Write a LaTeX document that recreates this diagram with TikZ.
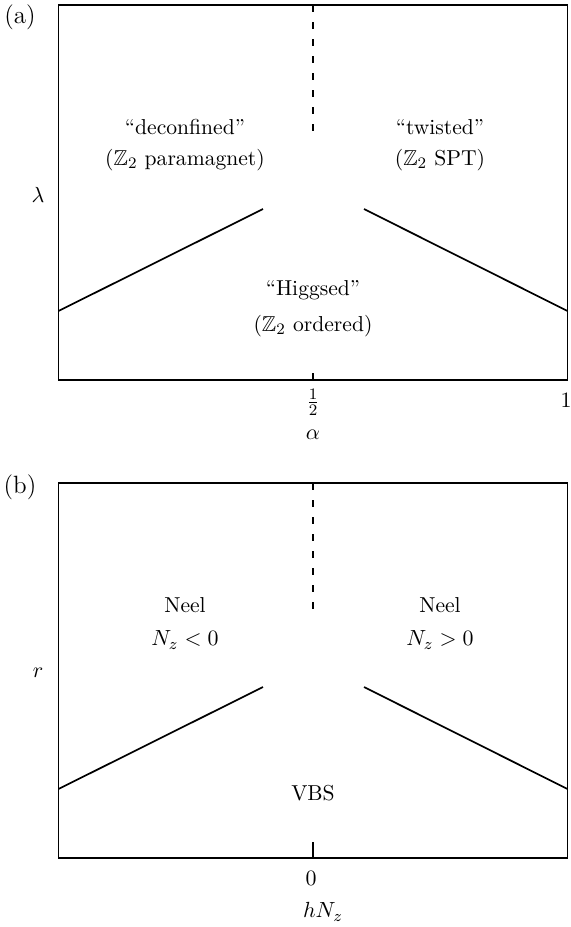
\documentclass[tikz,border=0pt]{standalone}
\usepackage{amsmath,amssymb}
\begin{document}
\begin{tikzpicture}[x=0.5pt,y=-0.5pt,
  frame/.style={line width=0.9pt},
  phase/.style={line width=0.85pt},
  dashline/.style={line width=0.85pt,dash pattern=on 3.5pt off 5pt},
  lbl/.style={inner sep=0pt,font=\fontsize{10.8}{13}\selectfont},
  panlbl/.style={inner sep=0pt,font=\fontsize{12.5}{15}\selectfont}]
\useasboundingbox (0,0) rectangle (570,927);
% ---------- panel (a)
\coordinate (aTL) at (58.5,5);
\coordinate (aBR) at (567.5,380);
\draw[frame] (aTL) rectangle (aBR);
\coordinate (aTop) at (313,5);
\coordinate (aDashEnd) at (313,132);
\draw[dashline] (aTop) -- (aDashEnd);
\coordinate (aL0) at (58.5,311);
\coordinate (aL1) at (263,209);
\coordinate (aR0) at (364,209);
\coordinate (aR1) at (567.5,311);
\draw[phase] (aL0) -- (aL1);
\draw[phase] (aR0) -- (aR1);
\coordinate (aTickB) at (313,380);
\coordinate (aTickT) at (313,373);
\draw[frame] (aTickB) -- (aTickT);
\node[panlbl] (alab) at (20,17) {(a)};
\node[lbl] (lam) at (38,195) {$\lambda$};
\node[lbl] (half) at (313,402) {$\frac{1}{2}$};
\node[lbl] (one) at (566,400) {$1$};
\node[lbl] (alpha) at (313,435) {$\alpha$};
\node[lbl] (dec) at (185,127) {``deconfined''};
\node[lbl] (para) at (185,160) {($\mathbb{Z}_2$ paramagnet)};
\node[lbl] (tw) at (440,127) {``twisted''};
\node[lbl] (spt) at (440,160) {($\mathbb{Z}_2$ SPT)};
\node[lbl] (hig) at (313,290) {``Higgsed''};
\node[lbl] (ord) at (313,326) {($\mathbb{Z}_2$ ordered)};
% ---------- panel (b)
\coordinate (bTL) at (58.5,483);
\coordinate (bBR) at (567.5,858);
\draw[frame] (bTL) rectangle (bBR);
\coordinate (bTop) at (313,483);
\coordinate (bDashEnd) at (313,610);
\draw[dashline] (bTop) -- (bDashEnd);
\coordinate (bL0) at (58.5,789);
\coordinate (bL1) at (263,687);
\coordinate (bR0) at (364,687);
\coordinate (bR1) at (567.5,789);
\draw[phase] (bL0) -- (bL1);
\draw[phase] (bR0) -- (bR1);
\coordinate (bTickB) at (313,858);
\coordinate (bTickT) at (313,842);
\draw[frame] (bTickB) -- (bTickT);
\node[panlbl] (blab) at (20,487) {(b)};
\node[lbl] (rr) at (38,673) {$r$};
\node[lbl] (zero) at (311,878) {$0$};
\node[lbl] (hnz) at (323,912) {$hN_z$};
\node[lbl] (neelL) at (185,605) {Neel};
\node[lbl] (nzl) at (185,640) {$N_z<0$};
\node[lbl] (neelR) at (440,605) {Neel};
\node[lbl] (nzr) at (440,640) {$N_z>0$};
\node[lbl] (vbs) at (313,793) {VBS};
\end{tikzpicture}
\end{document}
